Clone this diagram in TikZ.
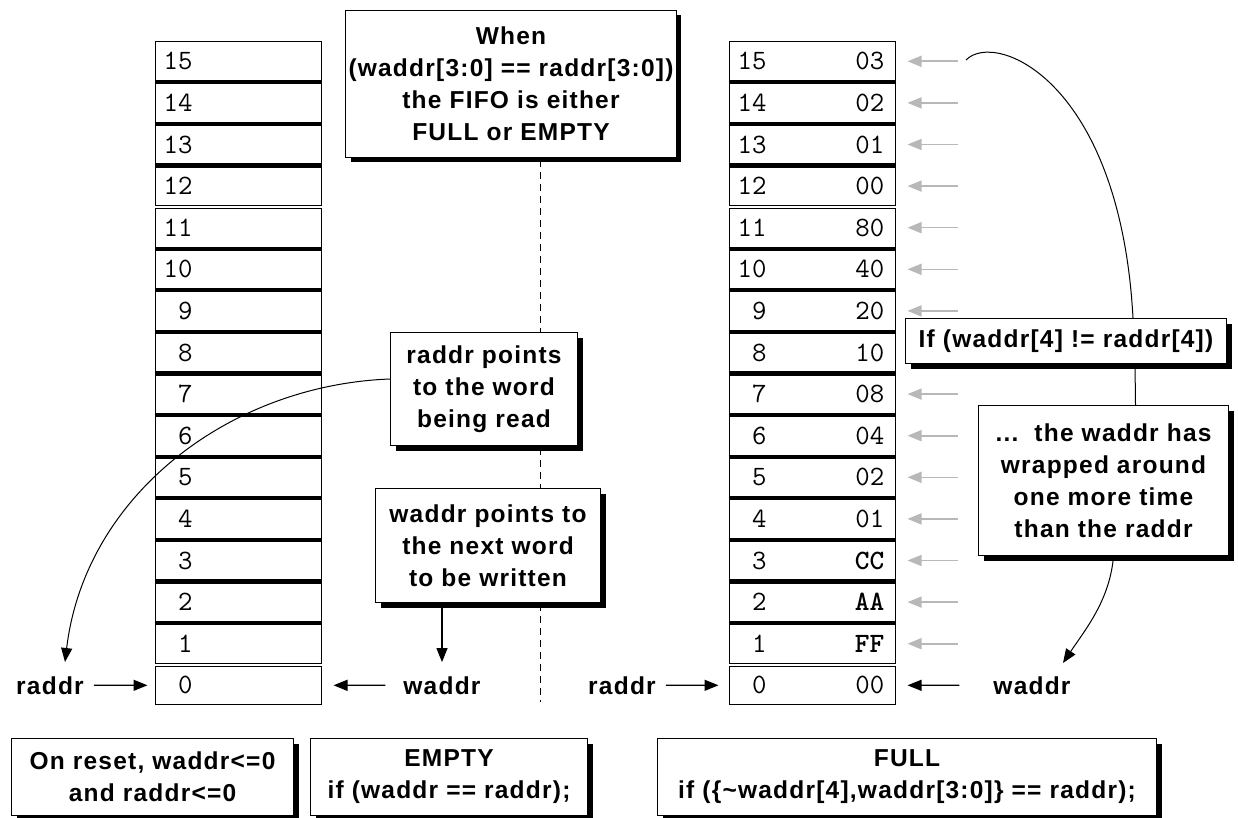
\documentclass[tikz,border=0pt]{standalone}
\usepackage{fontspec}
\setmainfont{Liberation Sans}[LetterSpace=5]
\usetikzlibrary{arrows.meta,shadows}

\tikzset{
  bf/.style={font=\bfseries\fontsize{24.5}{32}\selectfont},
  cell/.style={draw,line width=1pt,fill=white,minimum width=166pt,minimum height=38.6pt},
  note/.style={bf,draw,line width=1pt,fill=white,align=center,inner sep=0pt,
    drop shadow={shadow xshift=5pt,shadow yshift=-5pt,fill=black,opacity=1}},
  lbl/.style={bf,inner sep=0pt},
  num/.style={font=\ttfamily\fontsize{28}{28}\selectfont,inner sep=0pt},
  ptr/.style={line width=1.2pt,-{Triangle[length=14pt,width=11pt]}},
  ghost/.style={ptr,line width=1.6pt,black!28},
  bar/.style={line width=3.6pt}
}

\begin{document}
\begin{tikzpicture}[x=1pt,y=-1pt]
\useasboundingbox (0,0) rectangle (1238,818);
\draw[line width=1pt,dash pattern=on 7pt off 5pt] (540,160) -- (540,702);

\foreach \i/\v in {15/03,14/02,13/01,12/00,11/80,10/40,9/20,8/10,7/08,6/04,5/02,4/01,3/\textbf{CC},2/\textbf{AA},1/\textbf{FF},0/00} {
  \node[cell] (L\i) at (238,{61.3+(15-\i)*41.6}) {};
  \node[cell] (R\i) at (812,{61.3+(15-\i)*41.6}) {};
  \node[num,anchor=west] (nl\i) at ([xshift=9pt]L\i.west) {\ifnum\i<10 \phantom{0}\fi\i};
  \node[num,anchor=west] (nr\i) at ([xshift=9pt]R\i.west) {\ifnum\i<10 \phantom{0}\fi\i};
  \node[num,anchor=east] (v\i) at ([xshift=-11pt]R\i.east) {\v};
}
\foreach \i in {15,14,13,11,10,9,8,7,6,5,4,3,2}
  \draw[bar] ([yshift=-1.5pt]L\i.south west) -- ([yshift=-1.5pt]L\i.south east)
             ([yshift=-1.5pt]R\i.south west) -- ([yshift=-1.5pt]R\i.south east);
\foreach \i in {15,...,1} {
  \coordinate (g\i) at (958,{61.3+(15-\i)*41.6});
  \draw[ghost,shorten >=12pt] (g\i) -- (R\i);
}

\node[note,anchor=north west,minimum height=147pt,inner xsep=3pt] (when) at (345,10)
  {When\\(waddr[3:0] == raddr[3:0])\\the FIFO is either\\FULL or EMPTY};
\node[note,anchor=north west,minimum width=187pt,minimum height=113pt] (rpt) at (390,332)
  {raddr points\\to the word\\being read};
\node[note,anchor=north west,minimum width=225pt,minimum height=114pt] (wpt) at (375,488)
  {waddr points to\\the next word\\to be written};
\node[note,anchor=north west,minimum width=321pt,minimum height=45pt] (ifbox) at (905,318)
  {If (waddr[4] != raddr[4])};
\node[note,anchor=north west,minimum width=250pt,minimum height=150pt] (wrap) at (978,405)
  {...\ \ the waddr has\\wrapped around\\one more time\\than the raddr};
\node[note,anchor=north west,minimum width=282pt,minimum height=77pt] (reset) at (11,738)
  {On reset, waddr<=0\\and raddr<=0};
\node[note,anchor=north west,minimum width=277pt,minimum height=77pt] (empty) at (310,738)
  {EMPTY\\if (waddr == raddr);};
\node[note,anchor=north west,minimum width=499pt,minimum height=77pt] (full) at (657,738)
  {FULL\\if (\{\textasciitilde waddr[4],waddr[3:0]\} == raddr);};

\node[lbl] (rl) at (50,685.3) {raddr};
\node[lbl] (wl) at (442,685.3) {waddr};
\node[lbl] (rr) at (622,685.3) {raddr};
\node[lbl] (wr) at (1032,685.3) {waddr};
\draw[ptr,shorten <=10pt,shorten >=7pt] (rl) -- (L0);
\draw[ptr,shorten <=18pt,shorten >=12pt] (wl) -- (L0);
\draw[ptr,shorten <=10pt,shorten >=10pt] (rr) -- (R0);
\draw[ptr,shorten <=34pt,shorten >=12pt] (wr) -- (R0);
\draw[ptr,shorten >=14pt] (wpt.south -| wl) -- (wl.north);

\coordinate (rtip) at (65,662);
\draw[ptr,line width=1pt] ([yshift=10pt]rpt.west) .. controls (230,385) and (85,495) .. (rtip);
\coordinate (wtop) at (966,60);
\draw[line width=1pt] (wtop) .. controls (995,30) and (1120,80) .. ([xshift=67pt]ifbox.north);
\draw[line width=1pt] ([xshift=69pt]ifbox.south) -- ([xshift=32pt]wrap.north);
\coordinate (wtip) at (1063,663);
\draw[ptr,line width=1pt] ([xshift=10pt]wrap.south) .. controls (1110,600) and (1085,630) .. (wtip);
\end{tikzpicture}
\end{document}
